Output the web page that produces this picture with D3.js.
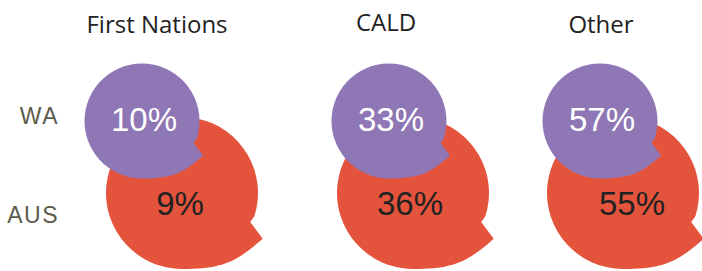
<!DOCTYPE html>
<html>
<head>
    <script src="https://d3js.org/d3.v7.min.js"></script>
    <style>
        body { margin: 0; background: #fff; }
        svg text.title { font-family: "Open Sans", sans-serif; font-size: 24px; fill: #222; text-anchor: middle; }
        svg text.row { font-family: "Liberation Sans", Arial, sans-serif; font-size: 23px; fill: #5b5b4c; text-anchor: end; letter-spacing: 1.5px; }
        svg text.val { font-family: "Liberation Sans", Arial, sans-serif; font-size: 33px; text-anchor: middle; }
    </style>
</head>
<body>
    <svg></svg>
    <script>
        // Data
        var categories = ["First Nations", "CALD", "Other"];
        var regions = ["WA", "AUS"];
        var waValues = [10, 33, 57];
        var ausValues = [9, 36, 55];

        var width = 702, height = 271;
        var svg = d3.select("svg").attr("width", width).attr("height", height);

        // column positions (bubbles are not centred the same way in each column)
        var xTitle = d3.scaleOrdinal(categories, [157, 386, 601]);
        var yTitle = d3.scaleOrdinal(categories, [33, 31, 33]);
        var xBubble = {
            WA: d3.scaleOrdinal(categories, [142, 389, 600]),
            AUS: d3.scaleOrdinal(categories, [182, 413, 623])
        };
        var xLabel = {
            WA: d3.scaleOrdinal(categories, [144, 391, 602]),
            AUS: d3.scaleOrdinal(categories, [180, 410, 632])
        };
        var y = d3.scaleOrdinal(regions, [121, 193]);
        var r = d3.scaleOrdinal(regions, [57.5, 76]);
        var fill = d3.scaleOrdinal(regions, ["#8f77b5", "#e4533c"]);
        var textFill = d3.scaleOrdinal(regions, ["#ffffff", "#222222"]);
        var labelY = d3.scaleOrdinal(regions, [116, 215]);

        // speech bubble: circle with a tail pointing down-right
        function bubble(cx, cy, rad) {
            function pt(a, k) {
                var t = a * Math.PI / 180;
                return [cx + k * rad * Math.cos(t), cy + k * rad * Math.sin(t)];
            }
            var bottom = [cx, cy + rad];
            var arcEnd = pt(18, 1);
            var notch = pt(23, 0.975);
            var tip = pt(29.5, 1.22);
            var c1 = [tip[0] - 0.45 * rad * 0.75, tip[1] + 0.45 * rad * 0.66];
            var c2 = [cx + 0.55 * rad, cy + rad];
            return "M" + bottom +
                "A" + rad + "," + rad + " 0 1 1 " + arcEnd +
                "L" + notch + "L" + tip +
                "C" + c1 + " " + c2 + " " + bottom + "Z";
        }

        // titles
        svg.selectAll("text.title")
            .data(categories)
            .enter()
            .append("text")
            .attr("class", "title")
            .attr("x", function (d) { return xTitle(d); })
            .attr("y", function (d) { return yTitle(d); })
            .text(function (d) { return d; });

        // row labels
        svg.selectAll("text.row")
            .data(regions)
            .enter()
            .append("text")
            .attr("class", "row")
            .attr("x", 59)
            .attr("y", function (d) { return labelY(d) + 8; })
            .text(function (d) { return d; });

        // AUS first so WA sits on top
        var rows = [
            { region: "AUS", values: ausValues, dy: 22 },
            { region: "WA", values: waValues, dy: 10 }
        ];

        rows.forEach(function (row) {
            var g = svg.append("g");
            g.selectAll("path")
                .data(categories)
                .enter()
                .append("path")
                .attr("d", function (d) {
                    return bubble(xBubble[row.region](d), y(row.region), r(row.region));
                })
                .attr("fill", fill(row.region));

            g.selectAll("text")
                .data(categories)
                .enter()
                .append("text")
                .attr("class", "val")
                .attr("x", function (d) { return xLabel[row.region](d); })
                .attr("y", y(row.region) + row.dy)
                .attr("fill", textFill(row.region))
                .text(function (d, i) { return row.values[i] + "%"; });
        });
    </script>
</body>
</html>
